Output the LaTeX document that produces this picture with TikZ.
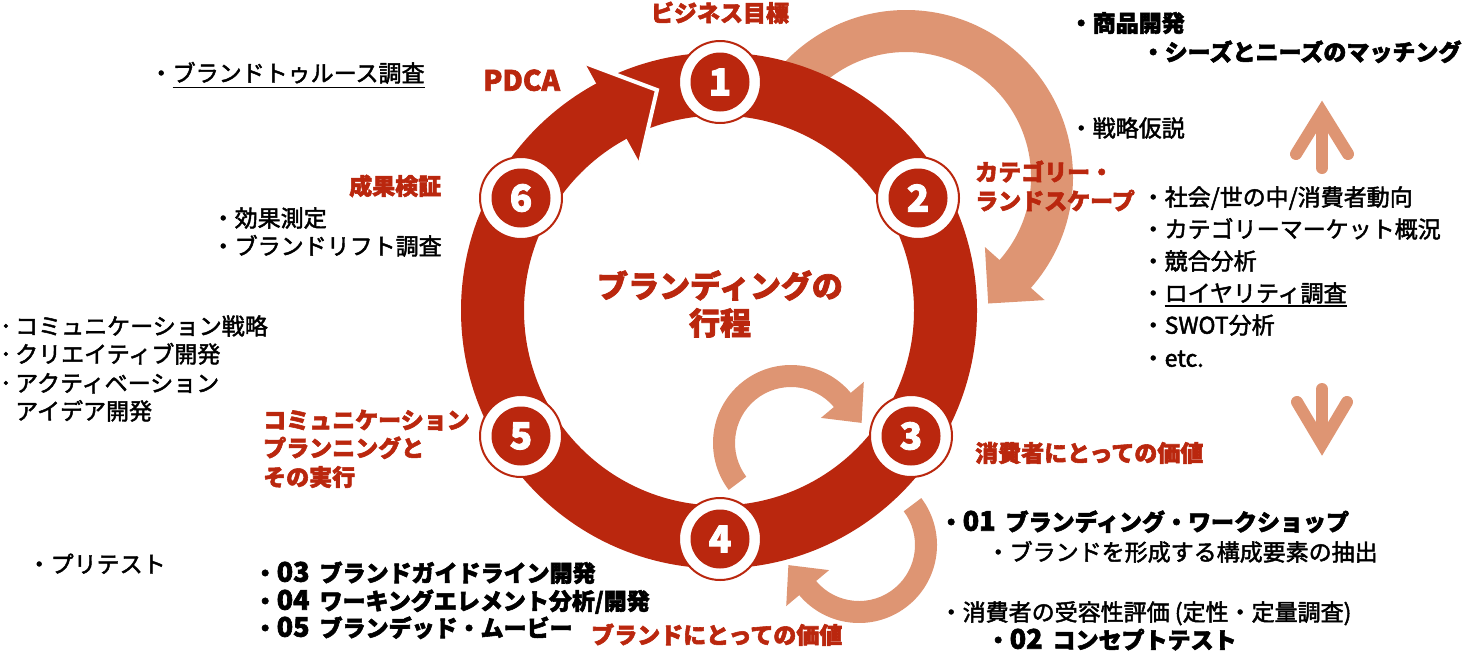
\documentclass[tikz,border=0pt]{standalone}
\usepackage{fontspec}
\setmainfont{Noto Sans CJK JP}
\newfontfamily\jmed[FakeBold=2]{Noto Sans CJK JP}
\newfontfamily\jheavy[BoldFeatures={FakeBold=2.4}]{Noto Sans CJK JP}
\definecolor{brandred}{HTML}{BA270E}
\definecolor{brandor}{HTML}{DE9573}
\newcommand\numsp[1]{{\fontsize{27}{28}\selectfont #1}\hspace{10pt}}
\begin{document}
\begin{tikzpicture}[x=1pt,y=-1pt,
  redl/.style={text=brandred, font=\fontsize{23}{28}\selectfont\jheavy\bfseries, inner sep=0pt, text height=20.2pt, text depth=2.8pt, anchor=west},
  blk/.style={text=black, font=\fontsize{23}{28}\selectfont\jmed, inner sep=0pt, text height=20.2pt, text depth=2.8pt, anchor=west},
  blkb/.style={blk, font=\fontsize{23}{28}\selectfont\jheavy\bfseries},
  numc/.style={circle, fill=white, draw=brandred, line width=2pt, minimum size=82pt, inner sep=0pt,
    text=white, font=\fontsize{37}{40}\selectfont\jheavy\bfseries,
    path picture={\fill[brandred] (path picture bounding box.center) circle[radius=29.5];}},
  chev/.style={draw=brandor, line width=12pt, line cap=round, line join=miter},
  uline/.style={draw=black, line width=1.5pt}
]
\useasboundingbox (0,0) rectangle (1471,651);
% big orange arc arrow (behind the ring)
\fill[brandor] (906,177) ++(-140:167) arc[start angle=-140, end angle=41.6, radius=167]
  -- (1044.7,300.1) -- (988.2,303.5) -- (984.9,247) -- (999.5,260)
  arc[start angle=41.6, end angle=-140, radius=125] -- cycle;
% red ring
\fill[brandred, even odd rule] (719,310.5) circle[radius=258] (719,310.5) circle[radius=195];
% PDCA arrow head
\fill[brandred] (585,63) -- (657,90) -- (640,163) -- cycle;
\draw[white, line width=4pt] (585,63) -- (657,90) -- (640,163);
% small orange arrows
\fill[brandor] (791,443) ++(143:78) arc[start angle=143, end angle=320, radius=78]
  -- (863.8,381.9) -- (861.6,422.9) -- (820.9,417.9) -- (833.9,407)
  arc[start angle=320, end angle=143, radius=56] -- cycle;
\fill[brandor] (859,545) ++(-37:78) arc[start angle=-37, end angle=140, radius=78]
  -- (786.2,606.1) -- (788.4,565.1) -- (829.1,570.1) -- (816.1,581)
  arc[start angle=140, end angle=-37, radius=56] -- cycle;
% numbered circles
\node[numc] (c1) at (720,82) {1};
\node[numc] (c2) at (918,198) {2};
\node[numc] (c3) at (911,436) {3};
\node[numc] (c4) at (720,539) {4};
\node[numc] (c5) at (521,436) {5};
\node[numc] (c6) at (521,198) {6};
% center title
\node[text=brandred, font=\fontsize{31}{37}\selectfont\jheavy\bfseries, align=center, inner sep=0pt] (title) at (720,304) {ブランディングの\\行程};
% red labels
\node[redl, anchor=center] (l1) at (720,13) {ビジネス目標};
\node[redl, font=\fontsize{28}{30}\selectfont\jheavy\bfseries] (pdca) at (483,82) {PDCA};
\node[redl] (l2a) at (975,172) {カテゴリー・};
\node[redl] (l2b) at (975,201) {ランドスケープ};
\node[redl] (l3) at (975,453) {消費者にとっての価値};
\node[redl] (l4) at (591,635) {ブランドにとっての価値};
\node[redl] (l5a) at (263,420) {コミュニケーション};
\node[redl] (l5b) at (263,448) {プランニングと};
\node[redl] (l5c) at (263,477) {その実行};
\node[redl] (l6) at (349,186) {成果検証};
% right top
\node[blkb] (a1) at (1069.5,23) {・商品開発};
\node[blkb] (a2) at (1141.5,52) {・シーズとニーズのマッチング};
\node[blk] (a3) at (1069.5,128) {・戦略仮説};
\node[blk] (b1) at (1141.5,197) {・社会/世の中/消費者動向};
\node[blk] (b2) at (1141.5,229) {・カテゴリーマーケット概況};
\node[blk] (b3) at (1141.5,261) {・競合分析};
\node[blk] (b4) at (1141.5,293) {・ロイヤリティ調査};
\node[blk] (b5) at (1141.5,325) {・SWOT分析};
\node[blk] (b6) at (1141.5,358) {・etc.};
\draw[uline] ([xshift=23pt,yshift=-1.5pt]b4.south west) -- ([yshift=-1.5pt]b4.south east);
% chevron arrows
\draw[chev] (1296,154) -- (1322,112) -- (1348,154);
\draw[chev] (1322,120) -- (1322,168);
\draw[chev] (1297,402) -- (1322,444) -- (1347,402);
\draw[chev] (1322,389) -- (1322,436);
% bottom right
\node[blkb] (d1) at (939.5,522) {・\numsp{01}ブランディング・ワークショップ};
\node[blk] (d2) at (986.5,552) {・ブランドを形成する構成要素の抽出};
\node[blk] (d3) at (939.5,612) {・消費者の受容性評価 (定性・定量調査)};
\node[blkb] (d4) at (986.5,640) {・\numsp{02}コンセプトテスト};
% left
\node[blk] (e1) at (149.5,73) {・ブランドトゥルース調査};
\draw[uline] ([xshift=23pt,yshift=-3pt]e1.south west) -- ([yshift=-3pt]e1.south east);
\node[blk] (e2) at (211.5,218) {・効果測定};
\node[blk] (e3) at (211.5,246) {・ブランドリフト調査};
\node[blk] (f1) at (0,326) {･\kern3.5pt コミュニケーション戦略};
\node[blk] (f2) at (0,354) {･\kern3.5pt クリエイティブ開発};
\node[blk] (f3) at (0,383) {･\kern3.5pt アクティベーション};
\node[blk] (f4) at (15,411) {アイデア開発};
\node[blk] (g1) at (27.5,564) {・プリテスト};
\node[blkb] (g2) at (253.5,573) {・\numsp{03}ブランドガイドライン開発};
\node[blkb] (g3) at (253.5,601) {・\numsp{04}ワーキングエレメント分析/開発};
\node[blkb] (g4) at (253.5,628) {・\numsp{05}ブランデッド・ムービー};
\end{tikzpicture}
\end{document}
